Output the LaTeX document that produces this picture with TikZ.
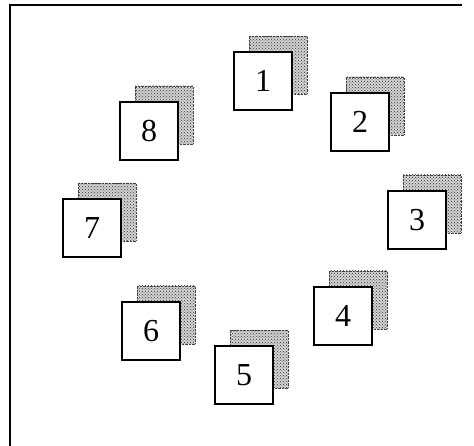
\documentclass[tikz,border=0pt]{standalone}
\usepackage{fontspec}
\setmainfont{Liberation Serif}
\usetikzlibrary{patterns}
\tikzset{
  card/.style={draw=black, line width=1.8pt, fill=white, minimum width=58pt, minimum height=58pt, inner sep=0pt, font=\fontsize{32}{34}\selectfont},
  shade/.style={fill=gray!35, minimum width=58pt, minimum height=58pt, inner sep=0pt, draw=gray!50!black, densely dotted},
  shadetex/.style={pattern=crosshatch dots, pattern color=gray!40!black, minimum width=58pt, minimum height=58pt, inner sep=0pt},
  frameline/.style={line width=1.4pt, black}
}
\begin{document}
\begin{tikzpicture}[x=1pt,y=-1pt]
\useasboundingbox (0,0) rectangle (474,446);
\coordinate (tl) at (10,5);
\coordinate (tr) at (462,5);
\coordinate (bl) at (10,446);
\draw[frameline] (tr) -- (tl) -- (bl);
\foreach \n/\x/\y in {1/263/81, 2/360/122, 3/417/220, 4/343/316, 5/244/375, 6/151/331, 7/92/228, 8/149/131}{
  \node[shade] (sh\n) at (\x+15,\y-16) {};
  \node[shadetex] (sb\n) at (\x+15,\y-16) {};
  \node[card] (s\n) at (\x,\y) {\n};
}
\end{tikzpicture}
\end{document}
